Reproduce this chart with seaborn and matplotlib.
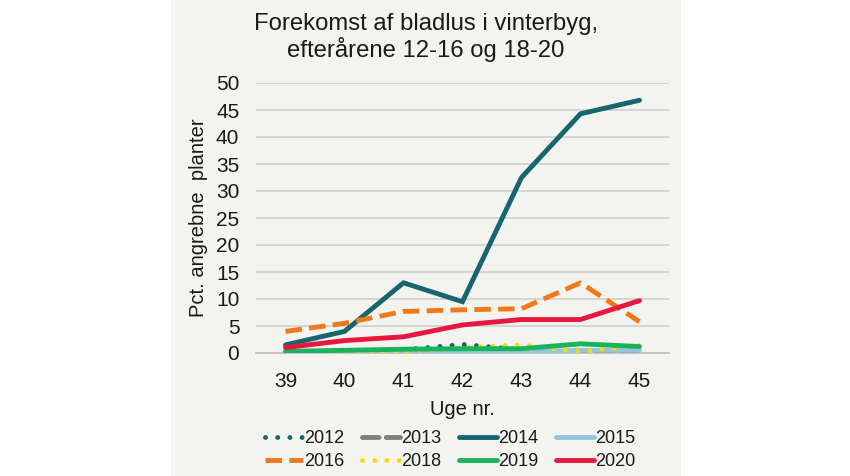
import numpy as np
import pandas as pd
import matplotlib
matplotlib.use("Agg")
import matplotlib.pyplot as plt
import seaborn as sns
from matplotlib.patches import Rectangle

weeks = ["39", "40", "41", "42", "43", "44", "45"]

y2012 = [np.nan, np.nan, 0.6, 1.6, 0.6, np.nan, np.nan]
y2013 = [0.0, 0.0, 0.0, 0.0, 0.0, 0.0, 0.0]
y2014 = [1.5, 4.0, 13.0, 9.5, 32.5, 44.3, 46.8]
y2015 = [0.0, 0.0, 0.1, 0.2, 0.2, 0.5, 0.5]
y2016 = [4.0, 5.5, 7.7, 8.0, 8.2, 13.0, 5.8]
y2018 = [0.0, 0.1, 0.3, 1.0, 1.5, 0.2, 1.4]
y2019 = [0.3, 0.5, 0.7, 0.8, 0.8, 1.7, 1.2]
y2020 = [1.0, 2.3, 3.0, 5.2, 6.2, 6.2, 9.7]

series = [
    ("2012", y2012, "#17666F", (0.01, 2.5), "round"),
    ("2013", y2013, "#808080", (3.4, 1.5), "round"),
    ("2014", y2014, "#17666F", None, "round"),
    ("2015", y2015, "#92C5E0", None, "round"),
    ("2016", y2016, "#EE7A1C", (3.4, 1.5), "butt"),
    ("2018", y2018, "#FFD800", (0.01, 2.5), "round"),
    ("2019", y2019, "#19B35A", None, "round"),
    ("2020", y2020, "#E8173F", None, "round"),
]

sns.set_style("white")
plt.rcParams["font.family"] = ["Liberation Sans", "DejaVu Sans"]
txt = "#1A1A1A"

fig = plt.figure(figsize=(8.5, 4.76), dpi=100)
fig.patch.set_facecolor("white")
fig.patches.append(Rectangle((171 / 850, 0), 510 / 850, 1, transform=fig.transFigure,
                             facecolor="#F3F3EF", edgecolor="none", zorder=-5))

ax = fig.add_axes([256 / 850, 1 - 353 / 476, 413 / 850, 270 / 476])
ax.set_facecolor("none")
ax.set_zorder(2)

x = np.arange(len(weeks))
for name, vals, col, dash, cap in series:
    df = pd.DataFrame({"uge": x, "pct": vals})
    sns.lineplot(data=df, x="uge", y="pct", ax=ax, color=col, linewidth=3.5,
                 label=name, zorder=3)
    ln = ax.lines[-1]
    if dash is not None:
        ln.set_dashes(dash)
    ln.set_dash_capstyle(cap)
    ln.set_solid_capstyle("round")
    ln.set_solid_joinstyle("miter")

ax.set_xlim(-0.5, len(weeks) - 0.5)
ax.set_ylim(0, 50)
ax.set_yticks(np.arange(0, 51, 5))
ax.set_xticks(x)
ax.set_xticklabels(weeks)
ax.set_xticks(np.arange(-0.5, len(weeks), 1), minor=True)
ax.tick_params(axis="x", which="major", length=0, pad=14, labelsize=15, colors=txt)
ax.tick_params(axis="x", which="minor", length=7, width=1, color="#BFBFBF")
ax.tick_params(axis="y", length=0, pad=12, labelsize=15, colors=txt)
ax.yaxis.grid(True, color="#D0D0CC", linewidth=1.2)
ax.set_axisbelow(True)
for s in ["top", "right", "left"]:
    ax.spines[s].set_visible(False)
ax.spines["bottom"].set_color("#BFBFBF")
ax.spines["bottom"].set_linewidth(1.2)

ax.set_xlabel("Uge nr.", fontsize=14.5, color=txt, labelpad=6)
ax.set_ylabel("Pct. angrebne  planter", fontsize=14.5, color=txt, labelpad=6)

fig.text(426 / 850, 1 - 38 / 476, "Forekomst af bladlus i vinterbyg,\nefterårene 12-16 og 18-20",
         ha="center", va="center", fontsize=17.2, color=txt, linespacing=1.1)

handles, labels = ax.get_legend_handles_labels()
order = [0, 4, 1, 5, 2, 6, 3, 7]
leg = ax.legend([handles[i] for i in order], [labels[i] for i in order], ncol=4,
                loc="upper center", bbox_to_anchor=(0.47, -0.225), frameon=False,
                fontsize=13, handlelength=2.1, handletextpad=0.05, columnspacing=1.0,
                labelspacing=0.35)
for t in leg.get_texts():
    t.set_color(txt)

fig.savefig("out.png", dpi=100)
